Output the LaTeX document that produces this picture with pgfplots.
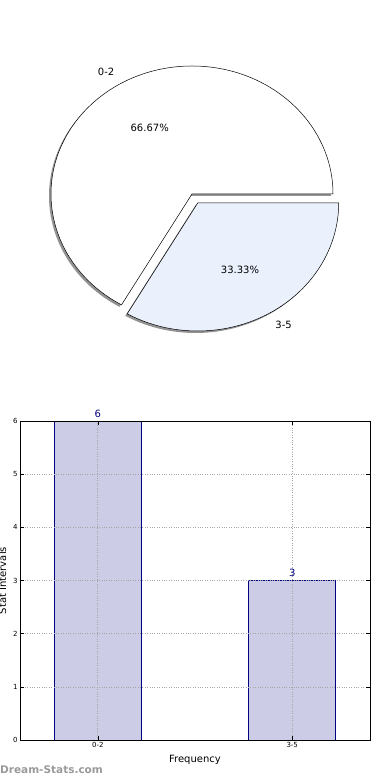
\documentclass[border=0pt]{standalone}
\usepackage{fontspec}
\setmainfont{DejaVu Sans}
\usepackage{pgfplots}
\pgfplotsset{compat=1.18}
\definecolor{barfill}{HTML}{CCCCE6}
\definecolor{baredge}{HTML}{000080}
\definecolor{slicetwo}{HTML}{EAF0FC}
\definecolor{wm}{HTML}{9A9A9A}
\begin{document}
\begin{tikzpicture}
\useasboundingbox (0pt,0pt) rectangle (390pt,780pt);
% ---------- pie ----------
\def\va{6}\def\vb{3}
\pgfmathsetmacro{\tot}{\va+\vb}
\pgfmathsetmacro{\angA}{360*\va/\tot}
\pgfmathsetmacro{\midA}{\angA/2}
\pgfmathsetmacro{\midB}{\angA+180*\vb/\tot}
\pgfmathsetmacro{\pa}{100*\va/\tot}
\pgfmathsetmacro{\pb}{100*\vb/\tot}
\begin{axis}[at={(0pt,390pt)},anchor=south west,scale only axis,width=390pt,height=390pt,
  xmin=0,xmax=390,ymin=0,ymax=390,hide axis,clip=false,
  /pgf/number format/assume math mode=true]
  \def\cx{192}\def\cy{196}\def\rx{141}\def\ry{128}\def\ex{0.081}
  \pgfmathsetmacro{\bx}{\cx+\ex*\rx*cos(\midB)}
  \pgfmathsetmacro{\by}{\cy+\ex*\ry*sin(\midB)}
  % shadows
  \fill[gray!85] (axis cs:\cx-2,\cy-2) -- ++(\rx pt,0) arc[start angle=0,end angle=\angA,x radius=\rx pt,y radius=\ry pt] -- cycle;
  \fill[gray!85] (axis cs:\bx-2,\by-2) -- ++({\rx*cos(\angA)},{\ry*sin(\angA)}) arc[start angle=\angA,end angle=360,x radius=\rx pt,y radius=\ry pt] -- cycle;
  % slices
  \filldraw[fill=white,draw=black,line width=0.5pt,line join=miter] (axis cs:\cx,\cy) -- ++(\rx pt,0) arc[start angle=0,end angle=\angA,x radius=\rx pt,y radius=\ry pt] -- cycle;
  \filldraw[fill=slicetwo,draw=black,line width=0.5pt,line join=miter] (axis cs:\bx,\by) -- ++({\rx*cos(\angA)},{\ry*sin(\angA)}) arc[start angle=\angA,end angle=360,x radius=\rx pt,y radius=\ry pt] -- cycle;
  % labels
  \node[font=\fontsize{10}{12}\selectfont] at (axis cs:{\cx+0.6*\rx*cos(\midA)},{\cy+0.6*\ry*sin(\midA)}) {\pgfmathprintnumber[fixed,precision=2,fixed zerofill,assume math mode=true]{\pa}\%};
  \node[font=\fontsize{10}{12}\selectfont] at (axis cs:{\bx+0.6*\rx*cos(\midB)},{\by+0.6*\ry*sin(\midB)}) {\pgfmathprintnumber[fixed,precision=2,fixed zerofill,assume math mode=true]{\pb}\%};
  \node[font=\fontsize{10}{12}\selectfont,anchor=east,inner sep=0pt] at (axis cs:{\cx+1.1*\rx*cos(\midA)},{\cy+1.1*\ry*sin(\midA)}) {0-2};
  \node[font=\fontsize{10}{12}\selectfont,anchor=west,inner sep=0pt] at (axis cs:{\bx+1.1*\rx*cos(\midB)},{\by+1.1*\ry*sin(\midB)}) {3-5};
\end{axis}
% ---------- bars ----------
\begin{axis}[at={(20pt,40pt)},anchor=south west,scale only axis,width=350pt,height=319pt,
  xmin=-0.4,xmax=1.4,ymin=0,ymax=6,
  xtick={0,1},xticklabels={0-2,3-5},ytick={0,1,2,3,4,5,6},
  tick align=inside,major tick length=4pt,
  tick style={black,line width=0.5pt},
  xtick pos=both,ytick pos=both,
  ticklabel style={font=\fontsize{7}{8}\selectfont},
  /pgf/number format/assume math mode=true,
  xticklabel style={yshift=1pt},
  yticklabel style={xshift=1pt},
  grid=major,
  major grid style={gray!70,dotted,line width=0.6pt},
  axis line style={black,line width=0.8pt},
  axis on top,
  xlabel={Frequency},ylabel={Stat Intervals},
  label style={font=\fontsize{10}{12}\selectfont},
  xlabel style={at={(axis description cs:0.5,-0.063)},anchor=center},
  ylabel style={at={(axis description cs:-0.050,0.5)},anchor=center},
  nodes near coords,
  nodes near coords style={font=\fontsize{10}{12}\selectfont,text=baredge,anchor=south,yshift=0pt},
  ]
  \addplot[ybar,bar width=87pt,fill=barfill,draw=baredge,line width=0.7pt] coordinates {(0,6) (1,3)};
\end{axis}
\node[anchor=west,text=wm,font=\fontsize{10.5}{12}\selectfont\bfseries,inner sep=0pt] at (0pt,10pt) {Dream-Stats.com};
\end{tikzpicture}
\end{document}
